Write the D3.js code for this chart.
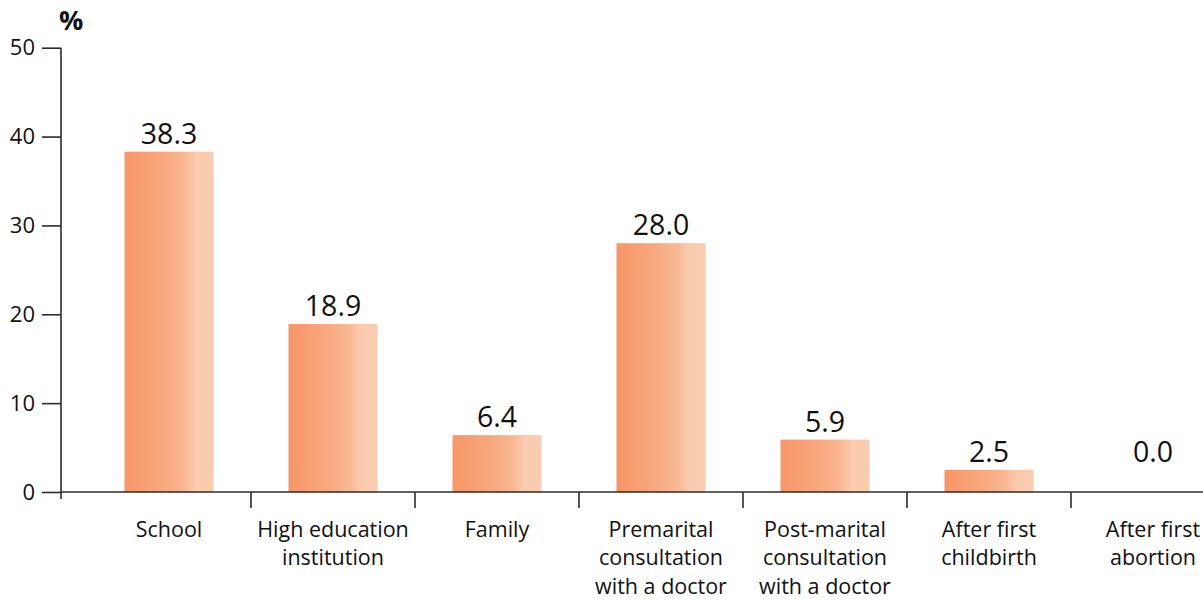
<!DOCTYPE html>
<html>
<head>
<meta charset="utf-8">
<script src="https://cdn.jsdelivr.net/npm/d3@7"></script>
<style>
  html, body { margin: 0; padding: 0; background: #fff; }
  svg { display: block; font-family: "Open Sans", "Noto Sans", sans-serif; }
</style>
</head>
<body>
<svg id="chart" width="1203" height="601"></svg>
<script>
// Where respondents first received information (percent)
const categories = [
  ["School"],
  ["High education", "institution"],
  ["Family"],
  ["Premarital", "consultation", "with a doctor"],
  ["Post-marital", "consultation", "with a doctor"],
  ["After first", "childbirth"],
  ["After first", "abortion"]
];
const values = [38.3, 18.9, 6.4, 28.0, 5.9, 2.5, 0.0];
const yTicks = [0, 10, 20, 30, 40, 50];
const yUnit = "%";

const svg = d3.select("#chart");
const W = 1203;
const axisX = 61;
const y0 = 492;

const y = d3.scaleLinear().domain([0, 50]).range([y0, 47.7]);

const x = d3.scaleBand()
  .domain(d3.range(categories.length))
  .range([87, 87 + 164 * 7])
  .paddingInner(0.457)
  .paddingOuter(0.2285);

// bar fill: warm orange fading to a pale peach on the right
const defs = svg.append("defs");
const grad = defs.append("linearGradient")
  .attr("id", "barFill").attr("x1", "0%").attr("x2", "100%").attr("y1", "0%").attr("y2", "0%");
[
  [0, "#f6976a"], [0.12, "#f79b6c"], [0.45, "#f8a980"], [0.68, "#f9b893"],
  [0.80, "#f9caae"], [1, "#f9cdb1"]
].forEach(([o, c]) => grad.append("stop").attr("offset", o).attr("stop-color", c));

const axisColor = "#2b2b2b";

// bars
svg.append("g").selectAll("rect")
  .data(values)
  .join("rect")
  .attr("x", (d, i) => x(i))
  .attr("width", x.bandwidth())
  .attr("y", d => y(d))
  .attr("height", d => y0 - y(d))
  .attr("fill", "url(#barFill)");

// value labels, kept clear of the baseline
svg.append("g").selectAll("text")
  .data(values)
  .join("text")
  .attr("x", (d, i) => x(i) + x.bandwidth() / 2)
  .attr("y", d => Math.min(y(d) - 8, y0 - 30))
  .attr("text-anchor", "middle")
  .attr("font-size", 28.5)
  .attr("fill", "#111")
  .text(d => d.toFixed(1));

// y axis
const yAxis = svg.append("g").attr("transform", `translate(${axisX},0)`)
  .call(d3.axisLeft(y).tickValues(yTicks).tickSize(19).tickPadding(7).tickSizeOuter(0));
yAxis.select(".domain").remove();
yAxis.selectAll(".tick line").attr("stroke", axisColor).attr("stroke-width", 1.6);
yAxis.selectAll(".tick text")
  .attr("font-size", 22).attr("fill", "#111")
  .attr("font-family", "'Open Sans', sans-serif");
yAxis.append("line")
  .attr("x1", 0).attr("x2", 0).attr("y1", y(50)).attr("y2", y0 + 7)
  .attr("stroke", axisColor).attr("stroke-width", 1.6);

svg.append("text")
  .attr("x", axisX - 2).attr("y", 30)
  .attr("font-size", 27).attr("font-weight", "bold").attr("fill", "#111")
  .text(yUnit);

// x axis baseline and category separators
svg.append("line")
  .attr("x1", axisX).attr("x2", W).attr("y1", y0).attr("y2", y0)
  .attr("stroke", axisColor).attr("stroke-width", 1.6);

const boundaries = d3.range(1, categories.length).map(i => x(i) - x.step() * x.paddingInner() / 2);
svg.append("g").selectAll("line")
  .data(boundaries)
  .join("line")
  .attr("x1", d => d).attr("x2", d => d)
  .attr("y1", y0).attr("y2", y0 + 16)
  .attr("stroke", axisColor).attr("stroke-width", 1.6);

// category labels
const catG = svg.append("g").selectAll("text")
  .data(categories)
  .join("text")
  .attr("text-anchor", "middle")
  .attr("font-size", 21.5)
  .attr("fill", "#111");
catG.selectAll("tspan")
  .data((d, i) => d.map(line => ({ line, i })))
  .join("tspan")
  .attr("x", d => x(d.i) + x.bandwidth() / 2)
  .attr("y", (d, j) => 537 + j * 28.3)
  .text(d => d.line);
</script>
</body>
</html>
